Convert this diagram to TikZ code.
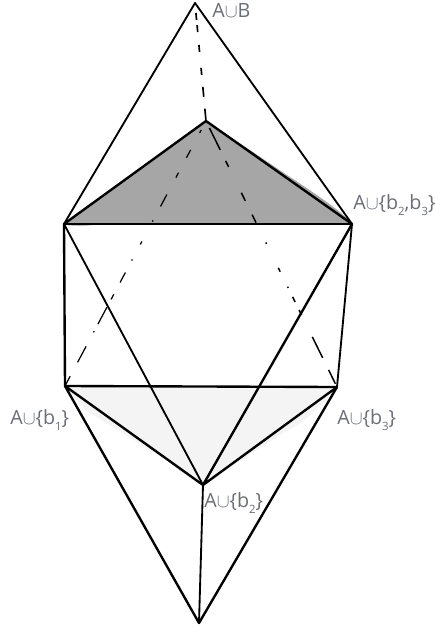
\documentclass[tikz,border=0pt]{standalone}
\usepackage{fontspec}
\setmainfont{Open Sans}
\usepackage{tikz}
\definecolor{labelgray}{HTML}{6B6E75}
\definecolor{darkshade}{HTML}{A6A6A6}
\definecolor{lightshade}{HTML}{F4F4F4}
\newcommand{\setb}[1]{A$\cup$\{#1\}}
\newcommand{\bsub}[1]{b\raisebox{-3.6pt}{\fontsize{6.5pt}{7pt}\selectfont #1}}

\begin{document}
\begin{tikzpicture}[
  x=0.02cm, y=-0.02cm,
  font=\fontsize{11.2pt}{13pt}\selectfont,
  lbl/.style={text=labelgray, inner sep=0pt, anchor=base west},
  edge/.style={line width=1.05pt, line join=round, line cap=round},
  heavy/.style={line width=1.35pt, line join=round, line cap=round},
  hidtop/.style={line width=0.95pt, dash pattern=on 0pt off 5.7pt on 4pt off 2.9pt on 4pt off 7.4pt on 4pt off 9.1pt on 4pt off 6.8pt on 5.7pt off 6.8pt on 5.7pt},
  hidleft/.style={line width=0.7pt, dash pattern=on 0pt off 5.8pt on 1.9pt off 10.9pt on 5.1pt off 9.6pt on 3.2pt off 10.9pt on 7.7pt off 9pt on 0.8pt off 12.8pt on 1.9pt off 9.6pt on 0.8pt off 7.7pt on 6.4pt off 7.7pt on 3.2pt off 5.1pt on 10.9pt off 4.5pt on 0.8pt off 9pt on 10.3pt off 9pt on 5.1pt},
  hidright/.style={line width=0.85pt, dash pattern=on 0pt off 4.4pt on 13.9pt off 7pt on 3.8pt off 16.4pt on 5.1pt off 8.8pt on 5.1pt off 12.6pt on 0.8pt off 15.2pt on 2.5pt off 9.5pt on 0.8pt off 5.7pt on 3.2pt off 5.1pt on 3.2pt off 13.9pt on 13.3pt off 7.6pt on 4.4pt}
]
\useasboundingbox (0,0) rectangle (434,629);

\coordinate (aub) at (195,3);
\coordinate (apex) at (206,121);
\coordinate (midl) at (64,224);
\coordinate (midr) at (352,224);
\coordinate (lowl) at (65,386);
\coordinate (lowr) at (337,387);
\coordinate (lowm) at (203,485);
\coordinate (foot) at (199,623);

\fill[darkshade] (apex) -- (253,152) .. controls (295,181) and (332,203) .. (351,222)
  -- (midr) -- (midl) -- (66,225) .. controls (75,226) and (85,226) .. (92,225) -- (midl) -- cycle;
\fill[lightshade] (lowl) -- (lowr) .. controls (325,405) and (300,425) .. (283,433)
  -- (lowm) .. controls (190,478) and (175,470) .. (170,462) -- (85,410) -- cycle;

\draw[hidtop] (aub) -- (apex);
\draw[hidleft] (apex) -- (lowl);
\draw[hidright] (apex) -- (lowr);

\draw[edge] (aub) -- (midl);
\draw[edge] (aub) -- (midr);
\draw[heavy] (apex) -- (midl);
\draw[heavy] (apex) -- (midr);
\draw[heavy] (midl) -- (midr);
\draw[heavy] (midl) -- (lowl);
\draw[edge] (midr) -- (lowr);
\draw[edge] (midl) -- (lowm);
\draw[heavy] (midr) -- (lowm);
\draw[heavy] (lowl) -- (lowr);
\draw[heavy] (lowl) -- (lowm);
\draw[heavy] (lowr) -- (lowm);
\draw[heavy] (lowl) -- (foot);
\draw[heavy] (lowr) -- (foot);
\draw[edge] (lowm) -- (foot);

\node[lbl] (laub) at (212,17) {A$\cup$B};
\node[lbl] (lb23) at (353,209) {\setb{\bsub{2},\bsub{3}}};
\node[lbl] (lb1) at (10,424) {\setb{\bsub{1}}};
\node[lbl] (lb3) at (337,424) {\setb{\bsub{3}}};
\node[lbl] (lb2) at (204,507) {\setb{\bsub{2}}};
\end{tikzpicture}
\end{document}
